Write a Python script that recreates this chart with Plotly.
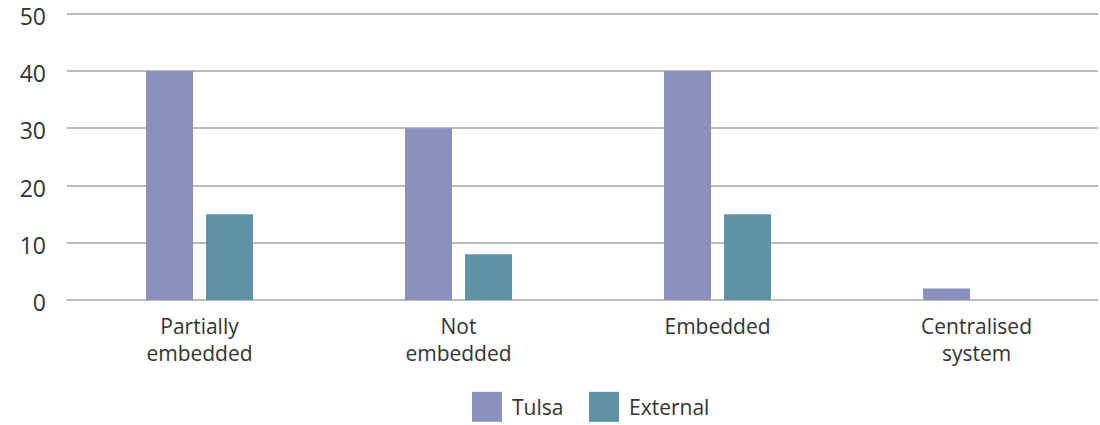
import plotly.graph_objects as go

categories = ["Partially<br>embedded", "Not<br>embedded", "Embedded", "Centralised<br>system"]
tulsa = [40, 30, 40, 2]
external = [15, 8, 15, 0]
y_ticks = [0, 10, 20, 30, 40, 50]
series_names = ["Tulsa", "External"]
series_colors = ["#8A91BD", "#5E93A5"]

fig = go.Figure()
fig.add_trace(go.Bar(name=series_names[0], x=categories, y=tulsa, marker_color=series_colors[0], marker_line_width=0))
fig.add_trace(go.Bar(name=series_names[1], x=categories, y=external, marker_color=series_colors[1], marker_line_width=0))

# plot area: 1031 x ~289 px
legend_x0 = [0.3928, 0.5063]
sq_w = 0.0291
for name, color, x0 in zip(series_names, series_colors, legend_x0):
    fig.add_shape(type="rect", xref="paper", yref="paper", x0=x0, x1=x0 + sq_w,
                  y0=-0.4216, y1=-0.3178, fillcolor=color, line_width=0)
    fig.add_annotation(xref="paper", yref="paper", x=x0 + sq_w + 0.008, y=-0.370,
                       text=name, showarrow=False, xanchor="left", yanchor="middle",
                       font=dict(size=21, color="#333333"))

fig.update_layout(
    width=1100, height=425,
    margin=dict(l=67, r=2, t=11, b=125, autoexpand=False),
    barmode="group",
    bargap=0.5367,
    bargroupgap=0.217,
    plot_bgcolor="white",
    paper_bgcolor="white",
    font=dict(family="Open Sans", color="#333333"),
    showlegend=False,
)
fig.update_xaxes(range=[-0.5116, 3.469], showgrid=False, showline=False, ticks="", ticklabelstandoff=12,
                 tickfont=dict(size=21, color="#333333"))
fig.update_yaxes(range=[0, 50.5], tickvals=y_ticks, showgrid=True, gridcolor="#BBBBBB", gridwidth=1.5,
                 zeroline=True, zerolinecolor="#BBBBBB", zerolinewidth=1.5,
                 ticks="", ticklabelstandoff=20, ticklabeloverflow="allow", ticklabelshift=3,
                 tickfont=dict(size=23, color="#333333"))

fig.write_html("out.html", config={"displayModeBar": False},
               post_script="document.body.style.margin='0';")
